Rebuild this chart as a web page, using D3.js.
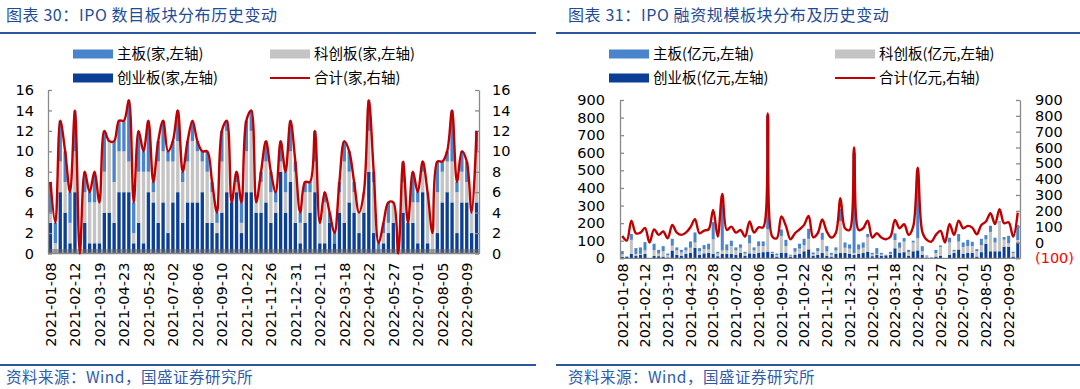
<!DOCTYPE html>
<html><head><meta charset="utf-8">
<script src="https://cdn.jsdelivr.net/npm/d3@7/dist/d3.min.js"></script>
<style>body{margin:0;background:#fff;} svg{display:block;}</style>
</head><body>
<svg id="c" width="1080" height="389"></svg>
<script>
const dates = [
"2021-01-08","2021-01-15","2021-01-22","2021-01-29","2021-02-05",
"2021-02-12","2021-02-19","2021-02-26","2021-03-05","2021-03-12",
"2021-03-19","2021-03-26","2021-04-02","2021-04-09","2021-04-16",
"2021-04-23","2021-04-30","2021-05-07","2021-05-14","2021-05-21",
"2021-05-28","2021-06-04","2021-06-11","2021-06-18","2021-06-25",
"2021-07-02","2021-07-09","2021-07-16","2021-07-23","2021-07-30",
"2021-08-06","2021-08-13","2021-08-20","2021-08-27","2021-09-03",
"2021-09-10","2021-09-17","2021-09-24","2021-10-08","2021-10-15",
"2021-10-22","2021-10-29","2021-11-05","2021-11-12","2021-11-19",
"2021-11-26","2021-12-03","2021-12-10","2021-12-17","2021-12-24",
"2021-12-31","2022-01-07","2022-01-14","2022-01-21","2022-01-28",
"2022-02-11","2022-02-18","2022-02-25","2022-03-04","2022-03-11",
"2022-03-18","2022-03-25","2022-04-01","2022-04-08","2022-04-15",
"2022-04-22","2022-04-29","2022-05-06","2022-05-13","2022-05-20",
"2022-05-27","2022-06-03","2022-06-10","2022-06-17","2022-06-24",
"2022-07-01","2022-07-08","2022-07-15","2022-07-22","2022-07-29",
"2022-08-05","2022-08-12","2022-08-19","2022-08-26","2022-09-02",
"2022-09-09","2022-09-16","2022-09-23"];
const tickDates = ["2021-01-08","2021-02-12","2021-03-19","2021-04-23","2021-05-28","2021-07-02",
"2021-08-06","2021-09-10","2021-10-22","2021-11-26","2021-12-31","2022-02-11","2022-03-18",
"2022-04-22","2022-05-27","2022-07-01","2022-08-05","2022-09-09"];

// 图表30: IPO 数目 (家)
const cntGem  = [3,0,6,4,1,6,0,3,1,1,1,4,4,3,6,6,6,1,3,1,6,5,3,5,2,5,6,3,5,5,5,6,3,3,2,4,6,5,6,2,6,6,4,4,5,3,4,8,4,7,3,1,3,4,6,1,1,3,1,4,3,5,4,2,4,8,2,0,1,2,3,0,4,3,3,1,6,1,0,2,5,6,5,2,5,5,2,5];
const cntStar = [1,1,3,3,2,4,0,3,4,4,4,4,7,4,4,4,3,1,5,7,2,1,6,5,7,4,5,4,4,6,5,3,5,3,1,5,6,0,1,1,4,6,1,3,4,3,1,1,2,3,5,2,3,2,3,2,4,0,0,2,6,3,2,2,2,4,5,0,1,1,2,0,3,0,2,4,2,5,2,4,3,3,4,4,3,2,2,5];
const cntMain = [3,2,4,3,3,4,0,2,1,3,0,4,0,4,3,3,6,3,4,2,5,1,2,3,1,2,3,1,2,2,1,1,2,1,1,3,1,0,1,2,3,2,0,1,2,2,1,2,2,3,1,1,1,1,3,0,1,1,1,1,2,2,1,0,0,3,1,1,1,2,0,0,2,0,3,1,1,0,0,3,1,1,5,1,2,2,0,2];
const cntTotal= [7,3,13,10,6,14,0,8,6,8,5,12,11,11,13,13,15,5,12,10,13,7,11,13,10,11,14,8,11,13,11,10,10,7,4,12,13,5,8,5,13,14,5,8,11,8,6,11,8,13,9,4,7,7,12,3,6,4,2,7,11,10,7,4,6,15,8,1,3,5,5,0,9,3,8,6,9,6,2,9,9,10,14,7,10,9,4,12];

// 图表31: IPO 融资规模 (亿元)
const amtGem  = [8,8,25,15,20,25,0,13,12,10,5,44,20,15,25,30,60,20,28,30,25,12,25,25,25,20,30,15,28,25,30,35,38,25,10,32,30,10,20,25,40,51,15,20,30,15,10,25,30,30,25,20,25,30,38,12,20,15,15,20,57,30,35,15,40,45,20,5,3,10,15,0,20,30,50,25,30,30,10,35,82,40,40,40,66,66,10,89];
const amtStar = [15,2,80,10,5,20,0,34,15,30,12,28,25,18,20,30,30,20,25,20,83,15,20,20,45,25,30,12,57,20,40,35,127,5,8,95,40,5,18,30,35,60,8,20,75,25,10,20,180,30,30,10,25,30,82,10,5,6,0,5,47,30,60,20,50,70,20,5,0,20,50,0,70,10,45,40,40,40,30,40,25,110,50,165,40,20,20,15];
const amtMain = [18,2,33,33,37,47,0,36,21,29,10,39,17,15,17,36,57,18,22,33,98,10,262,34,30,17,19,10,47,17,26,26,650,7,9,37,35,5,20,28,36,57,10,18,40,29,11,17,70,30,24,570,29,30,18,9,33,10,5,12,38,30,20,13,10,358,29,6,2,18,8,0,27,8,43,25,35,24,12,36,25,35,27,5,15,42,7,85];
const amtTotal= [41,12,138,58,62,92,0,83,48,69,27,111,62,48,62,96,147,58,75,83,206,37,307,79,100,62,79,37,132,62,96,96,815,37,27,164,105,20,58,83,111,168,33,58,145,69,31,62,280,90,79,600,79,90,138,31,58,31,20,37,142,90,115,48,100,473,69,16,5,48,73,0,117,48,138,90,105,94,52,111,132,185,117,210,121,128,37,189];

const ticksCnt = [0,2,4,6,8,10,12,14,16];
const ticksAmtL = [0,100,200,300,400,500,600,700,800,900];
const ticksAmtR = [-100,0,100,200,300,400,500,600,700,800,900];

const C = {main:"#4A84CC", star:"#C4C4C4", gem:"#0B3E95", line:"#C00000", blue:"#2D56A0", axis:"#8A8A8A"};
const NUM = "'DejaVu Sans', Verdana, sans-serif";
const CJK = "'Noto Sans CJK SC', sans-serif";
const svg = d3.select("#c");

function panel(o) {
  const g = svg.append("g");
  // title
  g.append("text").attr("x", o.tx).attr("y", 21).text(o.title)
    .attr("font-family", CJK).attr("font-size", 16).attr("letter-spacing", 0.6).attr("fill", "#1F4C96");
  g.append("line").attr("x1", o.lx0).attr("x2", o.lx1).attr("y1", 33).attr("y2", 33)
    .attr("stroke", C.blue).attr("stroke-width", 2);
  // footer
  g.append("line").attr("x1", o.lx0).attr("x2", o.lx1).attr("y1", 365).attr("y2", 365)
    .attr("stroke", C.blue).attr("stroke-width", 2);
  g.append("text").attr("x", o.tx).attr("y", 383).text("资料来源：Wind，国盛证券研究所")
    .attr("font-family", CJK).attr("font-size", 15.5).attr("letter-spacing", 0.5).attr("fill", "#2F5CA8");

  // legend
  const leg = [
    {t:o.leg[0], c:C.main, x:o.legX[0], y:54, k:"r"},
    {t:o.leg[1], c:C.star, x:o.legX[1], y:54, k:"r"},
    {t:o.leg[2], c:C.gem,  x:o.legX[0], y:78, k:"r"},
    {t:o.leg[3], c:C.line, x:o.legX[1], y:78, k:"l"}];
  leg.forEach(d => {
    if (d.k === "r") g.append("rect").attr("x", d.x).attr("y", d.y-4.5).attr("width", 40).attr("height", 9).attr("fill", d.c);
    else g.append("line").attr("x1", d.x).attr("x2", d.x+40).attr("y1", d.y).attr("y2", d.y).attr("stroke", d.c).attr("stroke-width", 2);
    g.append("text").attr("x", d.x+44).attr("y", d.y).attr("dy", "0.36em").text(d.t)
      .attr("font-family", CJK).attr("font-size", 14.5).attr("fill", "#000");
  });

  const x = d3.scaleBand().domain(dates).range([o.x0, o.x1]).paddingInner(o.pad).paddingOuter(o.pad/2);
  const yL = d3.scaleLinear().domain(o.dL).range([o.yBot, o.yTop]);
  const yR = d3.scaleLinear().domain(o.dR).range([o.yBot, o.yTop]);

  const rows = dates.map((d,i) => ({date:d, gem:o.gem[i], star:o.star[i], main:o.main[i], total:o.total[i]}));
  const stack = d3.stack().keys(["gem","star","main"])(rows);
  const colors = {gem:C.gem, star:C.star, main:C.main};
  stack.forEach(s => {
    g.append("g").attr("fill", colors[s.key]).selectAll("rect").data(s).join("rect")
      .attr("x", d => x(d.data.date)).attr("width", x.bandwidth())
      .attr("y", d => yL(d[1])).attr("height", d => Math.max(0, yL(d[0]) - yL(d[1])));
  });

  // axes
  const axL = g.append("g").attr("transform", `translate(${o.x0},0)`)
    .call(d3.axisLeft(yL).tickValues(o.tL).tickSizeInner(-4).tickSizeOuter(0).tickPadding(o.padL));
  const axR = g.append("g").attr("transform", `translate(${o.x1},0)`)
    .call(d3.axisRight(yR).tickValues(o.tR).tickSizeInner(-4).tickSizeOuter(0).tickPadding(o.padR)
      .tickFormat(v => v < 0 ? `(${-v})` : v));
  [axL, axR].forEach(a => {
    a.select(".domain").attr("stroke", C.axis).attr("stroke-width", 1.3);
    a.selectAll(".tick line").attr("stroke", C.axis).attr("stroke-width", 1.3);
    a.selectAll(".tick text").attr("font-family", NUM).attr("font-size", o.fs).attr("fill", "#000");
  });
  axR.selectAll(".tick text").attr("fill", v => v < 0 ? "#FF0000" : "#000");

  // category axis
  g.append("rect").attr("x", o.x0).attr("y", o.yBot - o.band).attr("width", o.x1 - o.x0).attr("height", o.band)
    .attr("fill", "#6a6a6a").attr("opacity", 0.55);
  g.append("line").attr("x1", o.x0).attr("x2", o.x1).attr("y1", o.yBot).attr("y2", o.yBot)
    .attr("stroke", C.axis).attr("stroke-width", 1.3);
  g.append("g").selectAll("text").data(tickDates).join("text")
    .attr("transform", d => `translate(${x(d) + x.bandwidth()/2},${o.yBot + o.lblGap}) rotate(-90)`)
    .attr("text-anchor", "end").attr("dy", "0.36em").text(d => d)
    .attr("font-family", NUM).attr("font-size", o.fs).attr("fill", "#000");

  // total line
  const line = d3.line().x(d => x(d.date) + x.bandwidth()/2).y(d => yR(d.total))
    .curve(d3.curveCatmullRom.alpha(0.5));
  g.append("path").datum(rows).attr("d", line).attr("fill", "none")
    .attr("stroke", C.line).attr("stroke-width", 2.4).attr("stroke-linejoin", "round");
}

panel({
  title: "图表 30：IPO 数目板块分布历史变动", tx: 6, lx0: 0, lx1: 536,
  leg: ["主板(家,左轴)", "科创板(家,左轴)", "创业板(家,左轴)", "合计(家,右轴)"], legX: [73, 270],
  x0: 48, x1: 479, yTop: 90, yBot: 253.5, pad: 0.32,
  dL: [0,16], dR: [0,16], tL: ticksCnt, tR: ticksCnt, padL: 14, padR: 13, fs: 14.5, band: 4.5, lblGap: 9,
  gem: cntGem, star: cntStar, main: cntMain, total: cntTotal
});
panel({
  title: "图表 31：IPO 融资规模板块分布及历史变动", tx: 568, lx0: 556, lx1: 1080,
  leg: ["主板(亿元,左轴)", "科创板(亿元,左轴)", "创业板(亿元,左轴)", "合计(亿元,右轴)"], legX: [609, 835],
  x0: 620, x1: 1020, yTop: 100, yBot: 258.3, pad: 0.34,
  dL: [0,900], dR: [-100,900], tL: ticksAmtL, tR: ticksAmtR, padL: 15, padR: 15, fs: 14.5, band: 0, lblGap: 5,
  gem: amtGem, star: amtStar, main: amtMain, total: amtTotal
});
</script>
</body></html>
